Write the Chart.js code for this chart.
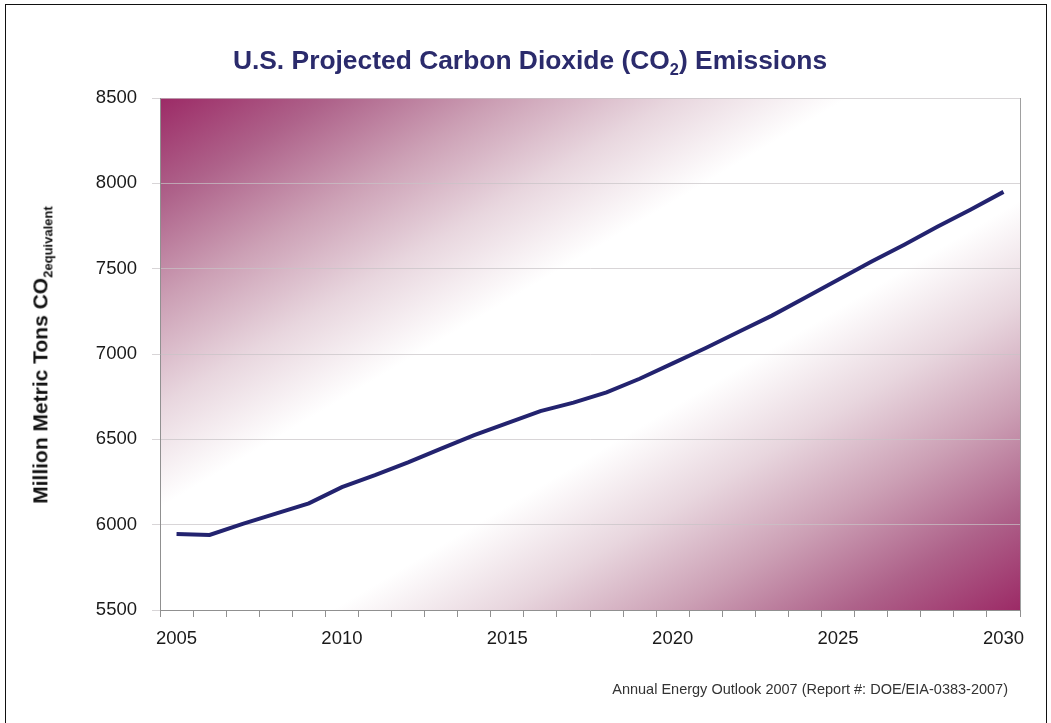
<!DOCTYPE html>
<html>
<head>
<meta charset="utf-8">
<script src="https://cdn.jsdelivr.net/npm/chart.js@4/dist/chart.umd.min.js"></script>
<style>
    body { margin: 0; background: #fff; font-family: "Liberation Sans", Arial, sans-serif; }
    #wrap { position: relative; width: 1051px; height: 723px; overflow: hidden; }
    #frame { position: absolute; left: 5px; top: 4px; width: 1040px; height: 740px; border: 1px solid #111; }
    #title { position: absolute; left: 0; width: 1060px; top: 45px; text-align: center; font-weight: bold; font-size: 26.4px; color: #2b2b6c; }
    #title sub, #ylabel sub { font-size: 62%; }
    #ylabel { position: absolute; left: 42px; top: 355px; transform: translate(-50%, -50%) rotate(-90deg); white-space: nowrap; font-weight: bold; font-size: 21px; color: #111; }
    #note { position: absolute; right: 43px; top: 681px; font-size: 14.5px; color: #333; }
    canvas { position: absolute; left: 0; top: 0; }
</style>
</head>
<body>
<div id="wrap">
    <div id="frame"></div>
    <canvas id="co2_chart" width="1051" height="723"></canvas>
    <div id="title">U.S. Projected Carbon Dioxide (CO<sub>2</sub>) Emissions</div>
    <div id="ylabel">Million Metric Tons CO<sub>2equivalent</sub></div>
    <div id="note">Annual Energy Outlook 2007 (Report #: DOE/EIA-0383-2007)</div>
</div>
<script>
var years = ['2005', '2006', '2007', '2008', '2009', '2010', '2011', '2012', '2013', '2014',
    '2015', '2016', '2017', '2018', '2019', '2020', '2021', '2022', '2023', '2024',
    '2025', '2026', '2027', '2028', '2029', '2030'];
var emissions = [5945, 5940, 6005, 6065, 6125, 6220, 6290, 6365, 6445, 6525,
    6595, 6665, 6715, 6775, 6855, 6945, 7035, 7130, 7225, 7330,
    7435, 7540, 7640, 7745, 7845, 7950];
var xTickYears = ['2005', '2010', '2015', '2020', '2025', '2030'];
var yTickValues = [5500, 6000, 6500, 7000, 7500, 8000, 8500];

var magenta = 'rgb(156, 42, 102)';

// diagonal pink-white-pink fill behind the plot, plus the right edge line
var backdrop = {
    id: 'backdrop',
    beforeDraw: function (chart) {
        var a = chart.chartArea;
        var c = chart.ctx;
        var cx = (a.left + a.right) / 2, cy = (a.top + a.bottom) / 2;
        var w = a.right - a.left, h = a.bottom - a.top;
        var len = Math.sqrt(w * w + h * h);
        var ux = h / len, uy = w / len;
        var half = (w / 2 * ux + h / 2 * uy);
        var g = c.createLinearGradient(cx - ux * half, cy - uy * half, cx + ux * half, cy + uy * half);
        g.addColorStop(0, magenta);
        g.addColorStop(0.1, 'rgb(174, 98, 138)');
        g.addColorStop(0.2, 'rgb(204, 160, 181)');
        g.addColorStop(0.3, 'rgb(232, 214, 222)');
        g.addColorStop(0.4, '#ffffff');
        g.addColorStop(0.6, '#ffffff');
        g.addColorStop(0.7, 'rgb(232, 214, 222)');
        g.addColorStop(0.8, 'rgb(204, 160, 181)');
        g.addColorStop(0.9, 'rgb(174, 98, 138)');
        g.addColorStop(1, magenta);
        c.save();
        c.fillStyle = g;
        c.fillRect(a.left, a.top, w, h);
        c.restore();
    },
    afterDraw: function (chart) {
        var a = chart.chartArea;
        var c = chart.ctx;
        c.save();
        c.strokeStyle = '#a0a0a0';
        c.lineWidth = 1;
        c.beginPath();
        c.moveTo(a.right + 0.5, a.top);
        c.lineTo(a.right + 0.5, a.bottom);
        c.stroke();
        c.restore();
    }
};

var chart = new Chart('co2_chart', {
    type: 'line',
    data: {
        labels: years,
        datasets: [{
            data: emissions,
            borderColor: '#23236f',
            borderWidth: 4,
            pointRadius: 0,
            tension: 0,
            fill: false
        }]
    },
    plugins: [backdrop],
    options: {
        responsive: false,
        animation: false,
        layout: { padding: { top: 98, right: 31, left: 0, bottom: 0 } },
        plugins: {
            legend: { display: false },
            tooltip: { enabled: false }
        },
        scales: {
            x: {
                type: 'category',
                offset: true,
                grid: { offset: true, drawOnChartArea: false, tickLength: 7, color: '#909090' },
                border: { color: '#909090' },
                ticks: {
                    autoSkip: false,
                    maxRotation: 0,
                    padding: 11,
                    color: '#1a1a1a',
                    font: { family: 'Liberation Sans', size: 18.5 },
                    callback: function (v, i) {
                        var y = this.getLabelForValue(v);
                        return xTickYears.indexOf(y) >= 0 ? y : '';
                    }
                },
                afterFit: function (s) { s.height = 113; }
            },
            y: {
                min: 5500,
                max: 8500,
                afterBuildTicks: function (s) {
                    s.ticks = yTickValues.map(function (v) { return { value: v }; });
                },
                grid: { color: 'rgba(200, 195, 198, 0.7)', tickLength: 8 },
                border: { color: '#909090' },
                ticks: {
                    padding: 15,
                    color: '#1a1a1a',
                    font: { family: 'Liberation Sans', size: 18.5 },
                    callback: function (v) { return String(v); }
                },
                afterFit: function (s) { s.width = 160; }
            }
        }
    }
});
</script>
</body>
</html>
